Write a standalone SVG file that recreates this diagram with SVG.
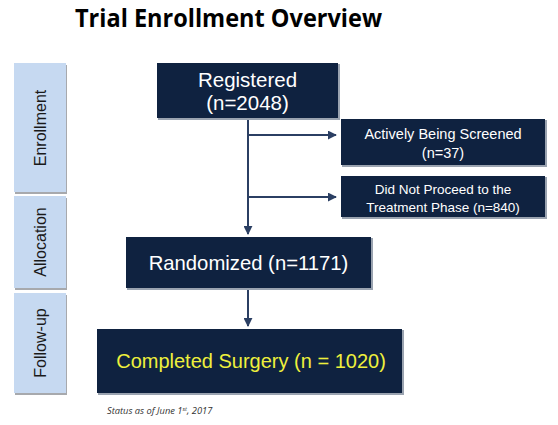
<svg xmlns="http://www.w3.org/2000/svg" width="558" height="425" viewBox="0 0 558 425">
<style>
.bar{fill:#c6d9f1}
.barsh{fill:#a7a9ad}
.box{fill:#0f2240}
.sh{fill:#9aa3b0}
.side{font-family:"Liberation Sans",Arial,sans-serif;font-size:16px;fill:#1a1a1a;text-anchor:middle}
.t{font-family:"Liberation Sans",Arial,sans-serif;fill:#ffffff;text-anchor:middle}
.ln{stroke:#2b3f63;stroke-width:2;fill:none}
</style>
<defs>
<marker id="ah" viewBox="0 0 10 10" refX="9" refY="5" markerWidth="4.5" markerHeight="4.5" orient="auto" markerUnits="strokeWidth">
<path d="M0,0 L10,5 L0,10 z" fill="#2b3f63"/>
</marker>
</defs>
<rect width="558" height="425" fill="#ffffff"/>
<text x="75" y="27" font-family="'Open Sans','Liberation Sans',sans-serif" font-weight="bold" font-size="25" fill="#000" textLength="307" lengthAdjust="spacingAndGlyphs">Trial Enrollment Overview</text>

<g id="bar-enrollment">
<rect class="barsh" x="15" y="65" width="52" height="129"/>
<rect class="bar" x="14" y="63" width="52" height="129"/>
<text class="side" transform="translate(46,128) rotate(-90)">Enrollment</text>
</g>
<g id="bar-allocation">
<rect class="barsh" x="15" y="198" width="52" height="92"/>
<rect class="bar" x="14" y="196" width="52" height="92"/>
<text class="side" transform="translate(46,242) rotate(-90)">Allocation</text>
</g>
<g id="bar-followup">
<rect class="barsh" x="15" y="295" width="52" height="100"/>
<rect class="bar" x="14" y="293" width="52" height="100"/>
<text class="side" transform="translate(46,343) rotate(-90)">Follow-up</text>
</g>

<g id="connectors">
<line class="ln" x1="248" y1="118" x2="248" y2="234" marker-end="url(#ah)"/>
<line class="ln" x1="248" y1="135" x2="336" y2="135" marker-end="url(#ah)"/>
<line class="ln" x1="248" y1="197" x2="336" y2="197" marker-end="url(#ah)"/>
<line class="ln" x1="248" y1="288" x2="248" y2="326" marker-end="url(#ah)"/>
</g>

<g id="registered">
<rect class="sh" x="158" y="64" width="182" height="56"/>
<rect class="box" x="157" y="63" width="181" height="55"/>
<text class="t" x="247.5" y="87" font-size="20.5">Registered</text>
<text class="t" x="247.5" y="110" font-size="20.5">(n=2048)</text>
</g>
<g id="screened">
<rect class="sh" x="342" y="120" width="205" height="47"/>
<rect class="box" x="341" y="119" width="204" height="46"/>
<text class="t" x="443" y="139" font-size="14.5">Actively Being Screened</text>
<text class="t" x="443" y="158" font-size="14.5">(n=37)</text>
</g>
<g id="not-proceed">
<rect class="sh" x="342" y="177" width="205" height="42"/>
<rect class="box" x="341" y="176" width="204" height="41"/>
<text class="t" x="443" y="194" font-size="13.5">Did Not Proceed to the</text>
<text class="t" x="443" y="212" font-size="13.5">Treatment Phase (n=840)</text>
</g>
<g id="randomized">
<rect class="sh" x="127" y="238" width="246" height="52"/>
<rect class="box" x="126" y="237" width="245" height="51"/>
<text class="t" x="248.5" y="270" font-size="20.3">Randomized (n=1171)</text>
</g>
<g id="completed">
<rect class="sh" x="98" y="330" width="306" height="65"/>
<rect class="box" x="97" y="329" width="305" height="64"/>
<text class="t" x="251" y="368" font-size="20" style="fill:#eef03c">Completed Surgery (n = 1020)</text>
</g>

<text x="107" y="414" font-family="'Open Sans','Liberation Sans',sans-serif" font-style="italic" font-size="9.3" fill="#333">Status as of  June 1<tspan font-size="6" dy="-3">st</tspan><tspan dy="3">, 2017</tspan></text>
</svg>
